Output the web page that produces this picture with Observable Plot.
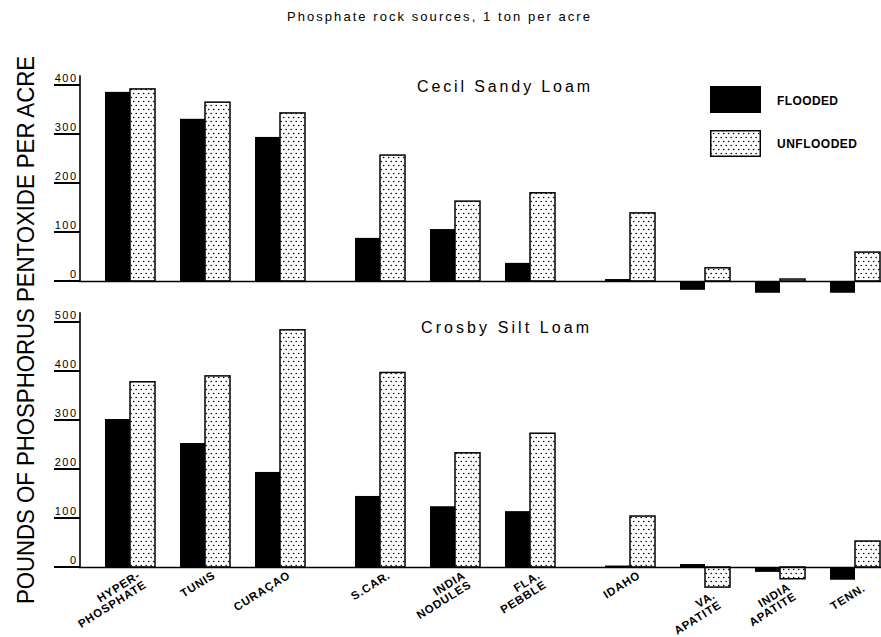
<!DOCTYPE html>
<html><head><meta charset="utf-8">
<script src="https://cdn.jsdelivr.net/npm/d3@7"></script>
<script src="https://cdn.jsdelivr.net/npm/@observablehq/plot@0.6"></script>
<style>
body{margin:0;background:#fff;}
#wrap{position:relative;width:881px;height:637px;overflow:hidden;background:#fff;font-family:"Liberation Sans",Arial,sans-serif;}
#wrap svg.plot{position:absolute;left:0;}
#overlay{position:absolute;left:0;top:0;z-index:2;pointer-events:none;}
</style></head><body>
<div id="wrap">
<svg id="overlay" width="881" height="637">
<defs>
<pattern id="dots" width="5" height="8" patternUnits="userSpaceOnUse">
<rect width="5" height="8" fill="#fff"/>
<circle cx="1.2" cy="1.5" r="0.8" fill="#000"/>
<circle cx="3.7" cy="5.5" r="0.8" fill="#000"/>
</pattern>
</defs>
<g font-family="Liberation Sans, Arial, sans-serif" fill="#000">
<text x="287" y="21" font-size="13" textLength="303" lengthAdjust="spacing">Phosphate rock sources, 1 ton per acre</text>
<text transform="translate(34,330) rotate(-90)" text-anchor="middle" font-size="24" textLength="548" lengthAdjust="spacingAndGlyphs">POUNDS OF PHOSPHORUS PENTOXIDE PER ACRE</text>
<text x="417" y="92" font-size="16" textLength="173" lengthAdjust="spacing">Cecil  Sandy  Loam</text>
<text x="421" y="333" font-size="16" textLength="168" lengthAdjust="spacing">Crosby  Silt  Loam</text>
<rect x="710" y="86" width="51" height="27" fill="#000"/>
<rect x="710.75" y="130.75" width="49.5" height="25.5" fill="url(#dots)" stroke="#000" stroke-width="1.5"/>
<text x="777" y="104.5" font-size="12" font-weight="bold" textLength="61" lengthAdjust="spacing">FLOODED</text>
<text x="777" y="147.5" font-size="12" font-weight="bold" textLength="80" lengthAdjust="spacing">UNFLOODED</text>
</g>
</svg>
</div>
<script>
// ---- data ----
const categories = ["HYPER-\nPHOSPHATE", "TUNIS", "CURAÇAO", "S.CAR.", "INDIA\nNODULES", "FLA.\nPEBBLE", "IDAHO", "VA.\nAPATITE", "INDIA\nAPATITE", "TENN."];
const groups = [0, 0, 0, 1, 1, 1, 2, 2, 2, 2];
const cecilFlooded   = [386, 331, 294, 88, 106, 37, 4, -18, -24, -24];
const cecilUnflooded = [392, 365, 343, 257, 163, 180, 139, 27, 4, 59];
const crosbyFlooded   = [302, 253, 194, 145, 124, 114, 3, 6, -10, -26];
const crosbyUnflooded = [378, 390, 484, 397, 233, 273, 104, -41, -24, 53];
const cecilTicks = [0, 100, 200, 300, 400];
const crosbyTicks = [0, 100, 200, 300, 400, 500];

// ---- band domain: flooded/unflooded slots, gaps, cluster spacers ----
const LEAD = "lead";
const domain = [LEAD];
categories.forEach((c, i) => {
  if (i > 0 && groups[i] !== groups[i - 1]) domain.push("spacer-" + i);
  domain.push(c + "|F", c + "|U");
  if (i < categories.length - 1) domain.push(c + "|gap");
});

function rows(vals, s) { return categories.map((c, i) => ({cat: c, key: c + "|" + s, v: vals[i]})); }

function panel({flooded, unflooded, ticks, yDomain, height, marginTop, marginBottom, labels, top}) {
  const marks = [
    Plot.barY(rows(flooded, "F"), {x: "key", y: "v", fill: "#000"}),
    Plot.barY(rows(unflooded, "U"), {x: "key", y: "v", fill: "url(#dots)", stroke: "#000", strokeWidth: 1.5}),
    Plot.ruleY([0], {stroke: "#000", strokeWidth: 1.6}),
    Plot.text(ticks, {y: d => d, text: d => String(d), frameAnchor: "left", textAnchor: "end", dx: -2, dy: -7, fontSize: 11, fill: "#000", className: "ticklab"})
  ];
  if (labels) {
    marks.push(Plot.text(categories.map((c, i) => ({cat: c, key: c + "|U", low: Math.min(0, flooded[i], unflooded[i])})), {
      x: "key", y: "low", text: "cat", rotate: -32, textAnchor: "end", lineAnchor: "top",
      dx: -6, dy: 3, fontSize: 11.5, fontWeight: "bold", fill: "#000", lineHeight: 0.98, className: "xlab"
    }));
  }
  const p = Plot.plot({
    width: 881, height, marginLeft: 79, marginRight: 0, marginTop, marginBottom,
    x: {type: "band", domain, padding: 0, axis: null},
    y: {domain: yDomain, axis: null},
    style: {fontFamily: "Liberation Sans, Arial, sans-serif", background: "transparent", overflow: "visible"},
    marks
  });
  p.classList.add("plot");
  p.style.top = top + "px";
  const ys = p.scale("y"), xs = p.scale("x");
  const x0 = xs.apply(LEAD);
  const g = d3.select(p).append("g").attr("stroke", "#000").attr("fill", "none");
  g.append("line")
    .attr("x1", x0).attr("x2", x0)
    .attr("y1", ys.apply(0)).attr("y2", ys.apply(yDomain[1]))
    .attr("stroke-width", 1.6);
  g.selectAll("line.tk").data(ticks).join("line").attr("class", "tk")
    .attr("x1", x0 - 26).attr("x2", x0)
    .attr("y1", d => ys.apply(d)).attr("y2", d => ys.apply(d))
    .attr("stroke", "#000").attr("stroke-width", 2);
  d3.select(p).selectAll(".ticklab text").style("letter-spacing", "1.5px");
  d3.select(p).selectAll(".xlab text").style("letter-spacing", "0.8px");
  return p;
}

const wrap = document.getElementById("wrap");
const p1 = panel({flooded: cecilFlooded, unflooded: cecilUnflooded, ticks: cecilTicks,
  yDomain: [-30, 420], height: 300, marginTop: 75.2, marginBottom: 4.3, labels: false, top: 0});
const p2 = panel({flooded: crosbyFlooded, unflooded: crosbyUnflooded, ticks: crosbyTicks,
  yDomain: [-50, 520], height: 337, marginTop: 12.2, marginBottom: 45.5, labels: true, top: 300});
wrap.insertBefore(p2, wrap.firstChild);
wrap.insertBefore(p1, wrap.firstChild);
</script>
</body></html>
